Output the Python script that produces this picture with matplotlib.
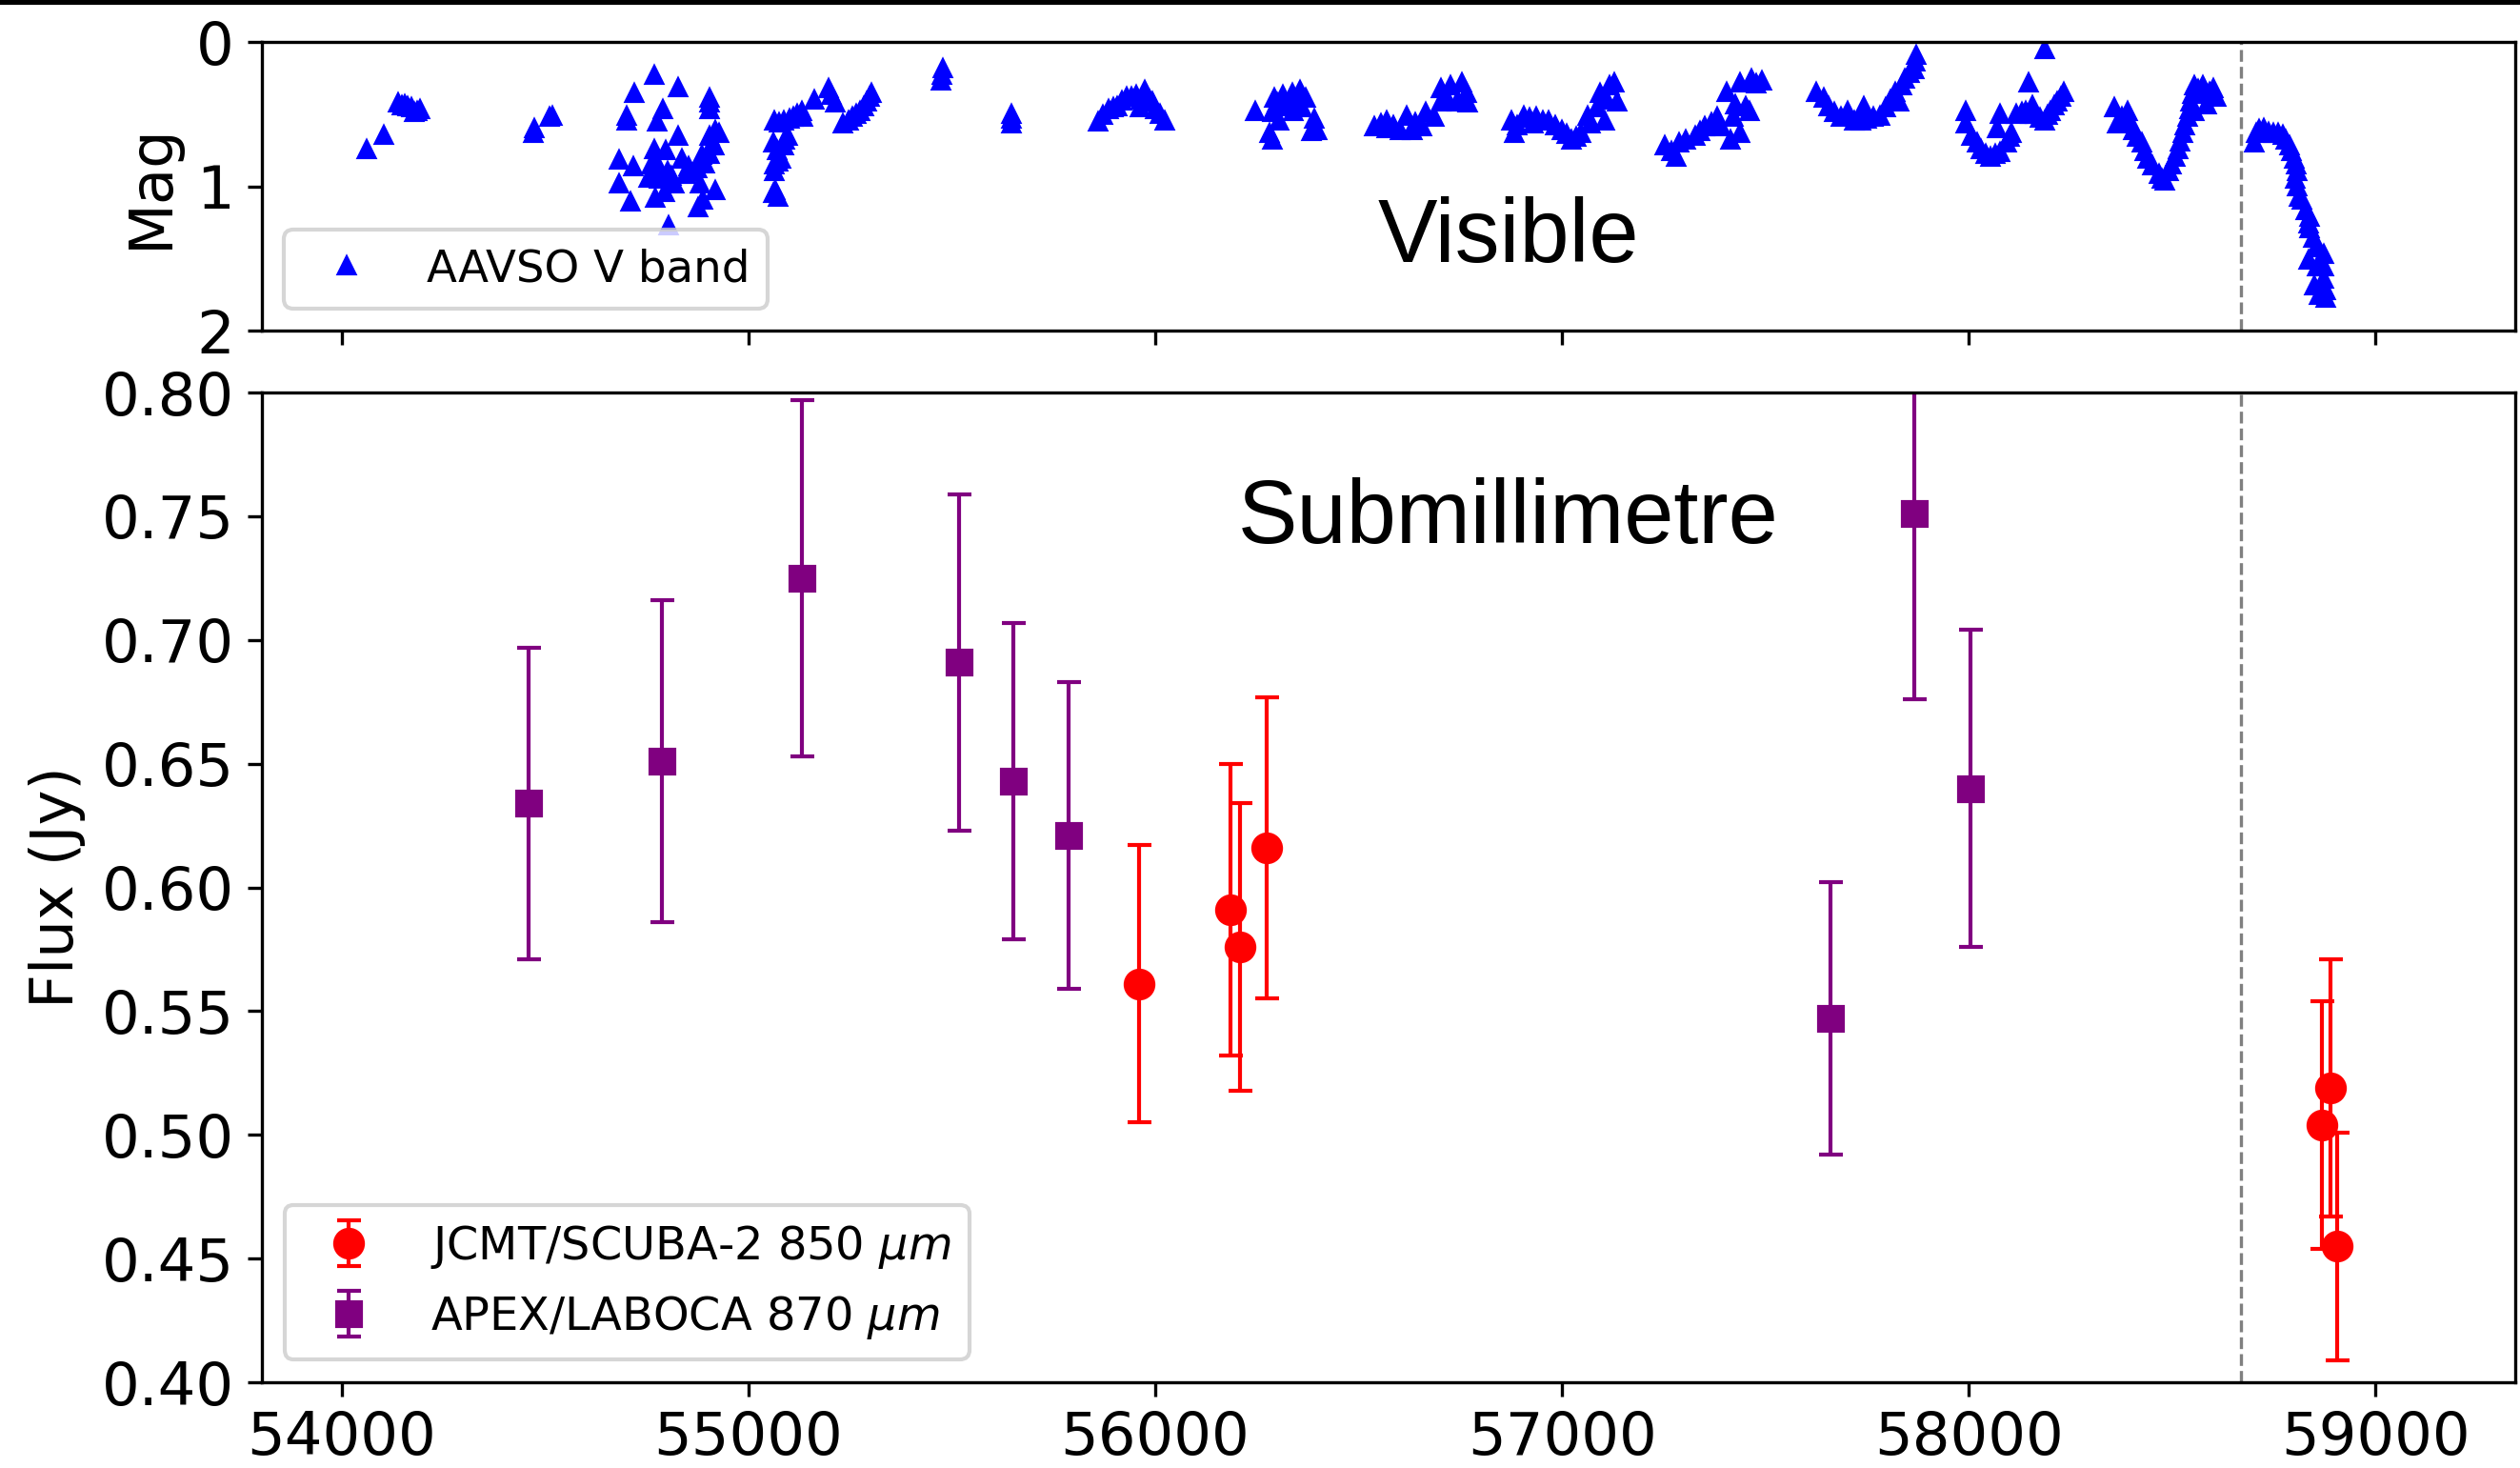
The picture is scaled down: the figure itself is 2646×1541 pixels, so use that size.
import numpy as np
import matplotlib.pyplot as plt
from matplotlib.patches import Rectangle

# --- AAVSO V band light curve (MJD, mag) ---
aavso_mjd = [
    54061, 54104, 54139, 54147, 54154, 54162, 54170, 54178, 54185, 54193,
    54470, 54474, 54510, 54517,
    54681, 54681, 54701, 54701, 54709, 54716, 54718, 54755, 54760, 54763,
    54767, 54769, 54771, 54771, 54775, 54780, 54788, 54790, 54794, 54795,
    54800, 54802, 54810, 54818, 54826, 54826, 54837, 54845, 54853, 54857,
    54873, 54876, 54880, 54884, 54888, 54892, 54903, 54904, 54904, 54904,
    54904, 54908, 54915, 54919, 54919, 54927,
    55060, 55066, 55072, 55062, 55064, 55072, 55080, 55060, 55070, 55087,
    55095, 55090, 55064, 55075, 55087, 55100, 55111, 55120, 55130, 55134,
    55162, 55197, 55204, 55212, 55232, 55245, 55255, 55265, 55275, 55283,
    55290, 55297, 55302,
    55474, 55476, 55478,
    55646, 55646, 55646,
    55860, 55872, 55884, 55896, 55907, 55918, 55930, 55942, 55954, 55962,
    55965, 55973, 55977, 55985, 55993, 56001, 56012, 56024,
    56246, 56281, 56289, 56289, 56293, 56300, 56305, 56313, 56320, 56336,
    56340, 56350, 56356, 56360, 56371, 56383, 56391, 56399,
    56539, 56555, 56570, 56570, 56586, 56602, 56617, 56633, 56640, 56656,
    56664, 56687, 56703, 56703, 56712, 56719, 56726, 56742, 56754, 56765,
    56769,
    56875, 56883, 56890, 56906, 56920, 56929, 56937, 56952, 56968, 56984,
    57000, 57012, 57023, 57035, 57046, 57062, 57070, 57086, 57093, 57105,
    57110, 57117, 57128, 57136,
    57253, 57270, 57281, 57288, 57305, 57327, 57340, 57351, 57368, 57382,
    57391, 57406, 57414, 57422, 57426, 57437, 57437, 57453, 57461, 57465,
    57478, 57492,
    57625, 57644, 57656, 57670, 57687, 57703, 57718, 57735, 57742, 57750,
    57765, 57781, 57797, 57808, 57820, 57828, 57835, 57843, 57855, 57867,
    57871, 57869,
    57992, 57992, 58007, 58020, 58031, 58043, 58054, 58066, 58070, 58078,
    58078, 58093, 58100, 58105, 58117, 58130, 58140, 58148, 58152, 58156,
    58163, 58175, 58187, 58187, 58195, 58202, 58210, 58218, 58226, 58234,
    58359, 58366, 58378, 58390, 58398, 58405, 58415, 58425, 58432, 58440,
    58452, 58468, 58475, 58483, 58491, 58499, 58507, 58515, 58520, 58526,
    58532, 58538, 58542, 58546, 58550, 58554, 58554, 58565, 58570, 58577,
    58585, 58592, 58601, 58609,
    58702, 58706, 58715, 58726, 58738, 58749, 58760, 58773, 58780, 58788,
    58794, 58800, 58805, 58808, 58803, 58808, 58812, 58819, 58830, 58839,
    58836, 58839, 58847, 58854, 58835, 58858, 58874, 58874, 58874, 58851,
    58878, 58862, 58878,
]
aavso_mag = [
    0.744, 0.645, 0.425, 0.440, 0.436, 0.450, 0.458, 0.490, 0.480, 0.468,
    0.634, 0.600, 0.520, 0.513,
    0.821, 0.986, 0.513, 0.546, 1.107, 0.865, 0.359, 0.942, 0.850, 0.909,
    0.744, 0.233, 0.821, 1.085, 0.557, 0.950, 0.469, 0.931, 1.041, 0.750,
    0.898, 1.272, 0.930, 0.986, 0.315, 0.656, 0.810, 0.920, 0.865, 0.898,
    0.876, 1.151, 0.986, 0.788, 1.096, 0.843, 0.420, 0.392, 0.469, 0.656,
    0.777, 0.722, 0.722, 0.612, 1.030, 0.634,
    1.052, 1.030, 1.074, 0.900, 0.854, 0.830, 0.810, 0.700, 0.750, 0.722,
    0.656, 0.680, 0.546, 0.560, 0.546, 0.535, 0.524, 0.500, 0.480, 0.520,
    0.403, 0.326, 0.370, 0.425, 0.568, 0.545, 0.524, 0.500, 0.480, 0.450,
    0.414, 0.385, 0.359,
    0.271, 0.230, 0.183,
    0.502, 0.535, 0.568,
    0.557, 0.510, 0.469, 0.455, 0.447, 0.410, 0.381, 0.380, 0.370, 0.458,
    0.400, 0.337, 0.414, 0.400, 0.414, 0.469, 0.500, 0.546,
    0.480, 0.634, 0.491, 0.678, 0.392, 0.420, 0.546, 0.370, 0.450, 0.359,
    0.480, 0.420, 0.337, 0.458, 0.392, 0.620, 0.535, 0.612,
    0.590, 0.570, 0.546, 0.600, 0.580, 0.612, 0.513, 0.612, 0.560, 0.590,
    0.491, 0.524, 0.414, 0.326, 0.380, 0.400, 0.304, 0.414, 0.282, 0.359,
    0.425,
    0.546, 0.634, 0.580, 0.513, 0.530, 0.568, 0.524, 0.550, 0.546, 0.580,
    0.612, 0.640, 0.678, 0.660, 0.634, 0.513, 0.568, 0.458, 0.359, 0.546,
    0.400, 0.304, 0.282, 0.414,
    0.722, 0.760, 0.799, 0.700, 0.680, 0.656, 0.620, 0.590, 0.560, 0.524,
    0.590, 0.348, 0.678, 0.524, 0.436, 0.634, 0.282, 0.450, 0.480, 0.260,
    0.290, 0.271,
    0.348, 0.392, 0.447, 0.490, 0.524, 0.480, 0.546, 0.550, 0.447, 0.535,
    0.520, 0.513, 0.458, 0.400, 0.348, 0.414, 0.300, 0.260, 0.220, 0.194,
    0.095, 0.140,
    0.480, 0.568, 0.656, 0.700, 0.744, 0.780, 0.799, 0.780, 0.600, 0.502,
    0.766, 0.700, 0.660, 0.634, 0.502, 0.490, 0.480, 0.282, 0.500, 0.440,
    0.502, 0.530, 0.546, 0.051, 0.510, 0.480, 0.440, 0.414, 0.380, 0.348,
    0.458, 0.568, 0.520, 0.480, 0.560, 0.612, 0.660, 0.700, 0.760, 0.810,
    0.860, 0.920, 0.950, 0.964, 0.900, 0.854, 0.800, 0.744, 0.690, 0.634,
    0.580, 0.524, 0.470, 0.414, 0.360, 0.304, 0.480, 0.330, 0.348, 0.304,
    0.436, 0.350, 0.326, 0.381,
    0.700, 0.634, 0.610, 0.601, 0.625, 0.634, 0.630, 0.645, 0.680, 0.722,
    0.760, 0.810, 0.850, 0.898, 0.950, 1.000, 1.074, 1.096, 1.170, 1.217,
    1.260, 1.294, 1.360, 1.426, 1.514, 1.558, 1.470, 1.560, 1.646, 1.690,
    1.720, 1.756, 1.778,
]

# --- JCMT/SCUBA-2 850 um fluxes (Jy) ---
jcmt_mjd = [55960, 56186, 56209, 56273, 58869, 58890, 58906]
jcmt_flux = [0.561, 0.591, 0.576, 0.616, 0.504, 0.519, 0.455]
jcmt_err = [0.056, 0.059, 0.058, 0.061, 0.050, 0.052, 0.046]

# --- APEX/LABOCA 870 um fluxes (Jy) ---
apex_mjd = [54458, 54787, 55130, 55518, 55652, 55787, 57660, 57866, 58004]
apex_flux = [0.634, 0.651, 0.725, 0.691, 0.643, 0.621, 0.547, 0.751, 0.640]
apex_err = [0.063, 0.065, 0.072, 0.068, 0.064, 0.062, 0.055, 0.075, 0.064]

dimming_start = 58670

fig = plt.figure(figsize=(2646 / 300, 1541 / 300), dpi=300)
ax1 = fig.add_axes([0.1039, 0.7748, 0.8942, 0.1966])
ax2 = fig.add_axes([0.1039, 0.0584, 0.8942, 0.6742], sharex=ax1)

# Visible light curve
ax1.plot(aavso_mjd, aavso_mag, '^', color='blue', ms=3.7, label='AAVSO V band')
ax1.axvline(dimming_start, color='gray', ls='--', lw=0.8)
ax1.set_ylim(2, 0)
ax1.set_yticks([0, 1, 2])
ax1.set_ylabel('Mag', fontsize=15)
ax1.tick_params(labelsize=15, labelbottom=False)
ax1.legend(loc='lower left', fontsize=11.2)
ax1.text(0.553, 0.238, 'Visible', transform=ax1.transAxes, ha='center',
         va='baseline', fontsize=22.5, family='Liberation Sans')

# Submillimetre fluxes
ax2.errorbar(jcmt_mjd, jcmt_flux, yerr=jcmt_err, fmt='o', color='red', ms=7,
             elinewidth=1, capsize=3, capthick=1, label=r'JCMT/SCUBA-2 850 $\mu m$')
ax2.errorbar(apex_mjd, apex_flux, yerr=apex_err, fmt='s', color='purple', ms=6,
             elinewidth=1, capsize=3, capthick=1, label=r'APEX/LABOCA 870 $\mu m$')
ax2.axvline(dimming_start, color='gray', ls='--', lw=0.8)
ax2.set_ylim(0.40, 0.80)
ax2.set_yticks(np.arange(0.40, 0.801, 0.05))
ax2.set_xlim(53803, 59344)
ax2.set_ylabel('Flux (Jy)', fontsize=15)
ax2.tick_params(labelsize=15)
ax2.legend(loc='lower left', fontsize=11.5)
ax2.text(0.553, 0.848, 'Submillimetre', transform=ax2.transAxes, ha='center',
         va='baseline', fontsize=22.5, family='Liberation Sans')

fig.add_artist(Rectangle((0, 1 - 3 / 1541), 1, 3 / 1541, color='black',
                         transform=fig.transFigure))

fig.savefig('out.png', dpi=300)
